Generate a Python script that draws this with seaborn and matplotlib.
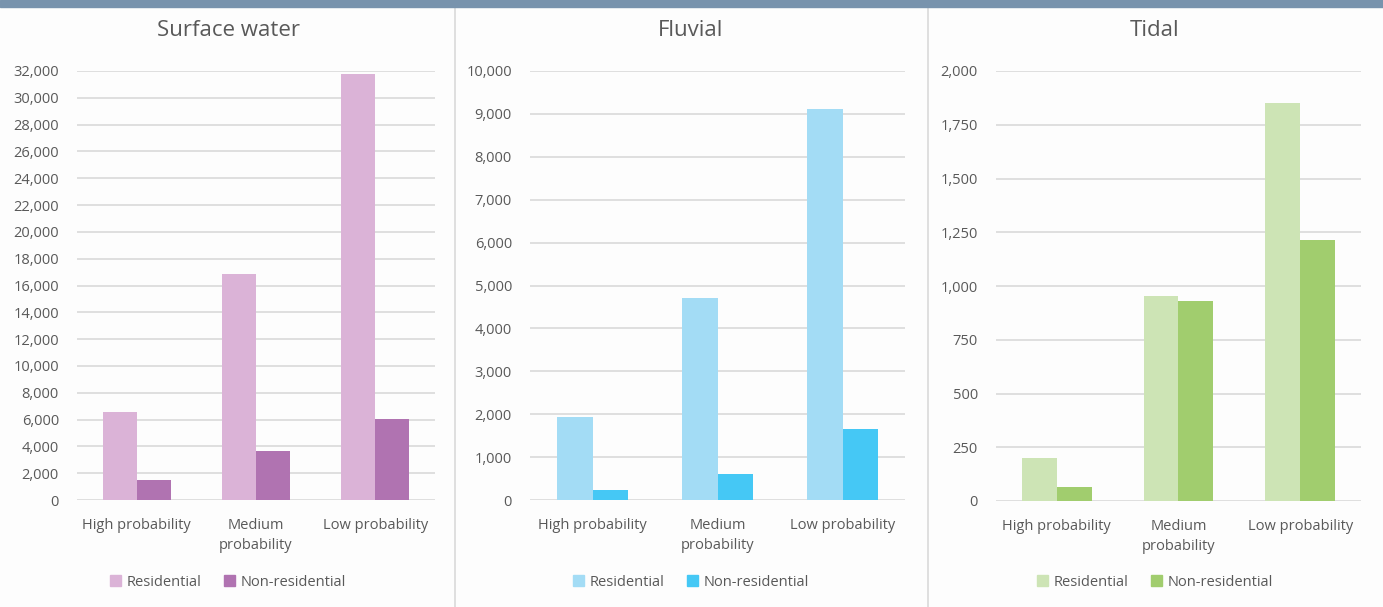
import pandas as pd
import matplotlib
matplotlib.use("Agg")
import matplotlib.pyplot as plt
from matplotlib.lines import Line2D
from matplotlib.patches import Rectangle
import seaborn as sns

# categories and series
categories = ["High probability", "Medium\nprobability", "Low probability"]
series = ["Residential", "Non-residential"]

surface_res = [6600, 16850, 31750]
surface_nonres = [1500, 3650, 6050]
fluvial_res = [1940, 4710, 9110]
fluvial_nonres = [240, 600, 1660]
tidal_res = [200, 955, 1850]
tidal_nonres = [65, 930, 1215]

titles = ["Surface water", "Fluvial", "Tidal"]
ymax = [32000, 10000, 2000]
ystep = [2000, 1000, 250]
colors = [["#dbb3d7", "#b073b1"],
          ["#a3dcf5", "#45c8f5"],
          ["#cde4b5", "#a1cd6e"]]

sns.set_style("white")
plt.rcParams['font.family'] = ['Open Sans', 'DejaVu Sans']
text_col = "#595959"
grid_col = "#d9d9d9"

W, H = 1383, 607
fig = plt.figure(figsize=(W / 100, H / 100), dpi=100)
fig.patch.set_facecolor("#fdfdfd")

# pixel boxes for each panel: (left, right, top, bottom) and panel centre
boxes = [(77, 435, 71, 500), (530, 905, 71, 500), (996, 1361, 71, 501)]
centres = [228, 691, 1155]

data_sets = [(surface_res, surface_nonres),
             (fluvial_res, fluvial_nonres),
             (tidal_res, tidal_nonres)]

for i, (res, nonres) in enumerate(data_sets):
    l, r, t, b = boxes[i]
    ax = fig.add_axes([l / W, (H - b) / H, (r - l) / W, (b - t) / H])
    ax.set_facecolor("none")
    df = pd.DataFrame({
        "Category": categories * 2,
        "Type": [series[0]] * 3 + [series[1]] * 3,
        "Value": res + nonres,
    })
    sns.barplot(data=df, x="Category", y="Value", hue="Type",
                palette=colors[i], width=0.57, gap=0, errorbar=None,
                saturation=1, linewidth=0, ax=ax, zorder=3, legend=False)
    ax.set_ylim(0, ymax[i])
    ticks = list(range(0, ymax[i] + 1, ystep[i]))
    ax.set_yticks(ticks)
    ax.set_yticklabels([f"{v:,}" for v in ticks])
    ax.yaxis.grid(True, color=grid_col, linewidth=1.2, zorder=0)
    ax.set_axisbelow(True)
    for s in ax.spines.values():
        s.set_visible(False)
    ax.tick_params(axis="both", length=0, labelsize=10.5, labelcolor=text_col)
    ax.tick_params(axis="y", pad=13)
    ax.tick_params(axis="x", pad=13)
    ax.set_xlabel("")
    ax.set_ylabel("")
    for lab in ax.get_xticklabels():
        lab.set_linespacing(1.45)

    fig.text(centres[i] / W, (H - 31) / H, titles[i], ha="center", va="center",
             fontsize=16, color=text_col)

    handles = [Rectangle((0, 0), 1, 1, color=c) for c in colors[i]]
    fig.legend(handles, series, loc="center", ncol=2, frameon=False,
               bbox_to_anchor=(centres[i] / W, (H - 582) / H),
               handlelength=0.75, handleheight=0.75, handletextpad=0.35,
               columnspacing=1.6, fontsize=10.5, labelcolor=text_col)

# top band and panel separators
fig.add_artist(Rectangle((0, (H - 7) / H), 1, 7 / H, transform=fig.transFigure,
                         color="#7893ad", zorder=10))
for x in [455, 928]:
    fig.add_artist(Line2D([x / W, x / W], [0, (H - 7) / H], transform=fig.transFigure,
                          color=grid_col, linewidth=1.2))

fig.savefig("out.png", dpi=100, facecolor=fig.get_facecolor())
